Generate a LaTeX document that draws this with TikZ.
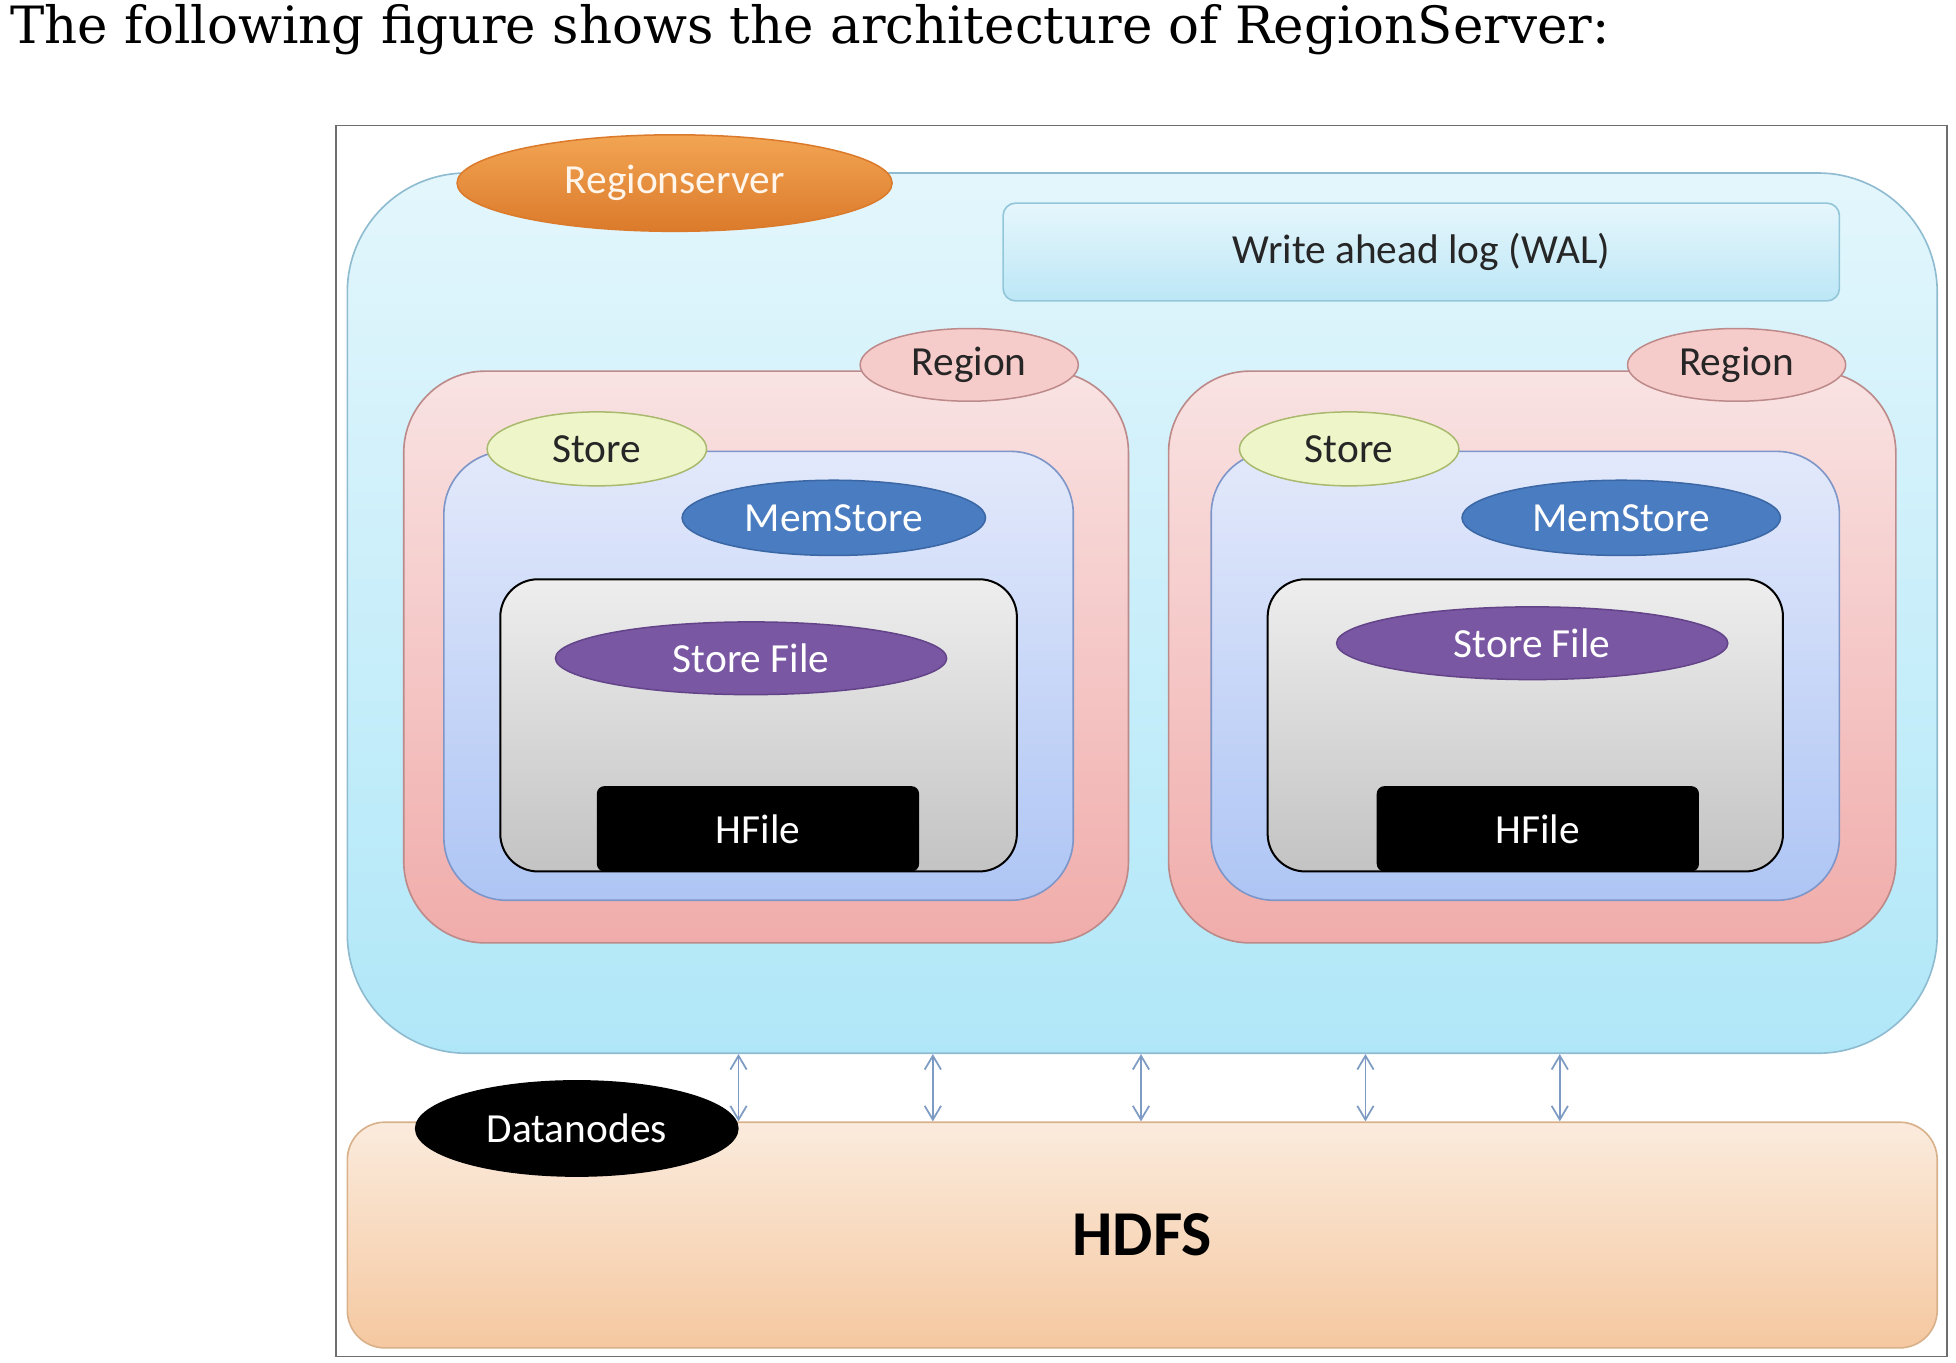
\documentclass[tikz,border=0pt]{standalone}
\usepackage{fontspec}
\newfontfamily\diagfont{Carlito}
\newfontfamily\titlefont{DejaVu Serif}
\usetikzlibrary{shapes.geometric,arrows.meta}
\definecolor{frameGray}{HTML}{6E6E6E}
\definecolor{rsTop}{HTML}{E3F6FC}
\definecolor{rsBot}{HTML}{B0E7F8}
\definecolor{rsLine}{HTML}{8EBBCF}
\definecolor{walTop}{HTML}{E6F6FC}
\definecolor{walBot}{HTML}{BCE7F6}
\definecolor{walLine}{HTML}{93C6D8}
\definecolor{orTop}{HTML}{F2A553}
\definecolor{orBot}{HTML}{DB7A2B}
\definecolor{regTop}{HTML}{F9E3E3}
\definecolor{regBot}{HTML}{F0ACAA}
\definecolor{regLine}{HTML}{BD8A8A}
\definecolor{regEll}{HTML}{F6CCCA}
\definecolor{stTop}{HTML}{E3E9FB}
\definecolor{stBot}{HTML}{AEC5F4}
\definecolor{stLine}{HTML}{7E96C8}
\definecolor{stEll}{HTML}{EEF6C9}
\definecolor{stEllLine}{HTML}{A9B96E}
\definecolor{memBlue}{HTML}{4A7CC1}
\definecolor{memLine}{HTML}{3B67A5}
\definecolor{sfTop}{HTML}{EEEEEE}
\definecolor{sfBot}{HTML}{C3C3C3}
\definecolor{sfPurple}{HTML}{7A57A3}
\definecolor{sfLine}{HTML}{634489}
\definecolor{hdTop}{HTML}{FBEBDD}
\definecolor{hdBot}{HTML}{F5C8A0}
\definecolor{hdLine}{HTML}{D8B18A}
\definecolor{ioBlue}{HTML}{7E9BC3}
\definecolor{txtDark}{HTML}{262626}

\begin{document}
\begin{tikzpicture}[x=1pt,y=1pt,yscale=-1,
	box/.style={rectangle,inner sep=0pt,line width=1.3pt},
	lbl/.style={ellipse,inner sep=0pt,line width=1.2pt,font=\diagfont\fontsize{33}{40}\selectfont},
	io/.style={draw=ioBlue,line width=1.4pt,{Straight Barb[length=11pt,width=13pt]}-{Straight Barb[length=11pt,width=13pt]}}]
	\useasboundingbox (0,0) rectangle (1560,1086.3);
	\node[anchor=base west,inner sep=0pt,font=\titlefont\fontsize{41}{49}\selectfont] (title) at (8,35) {The following figure shows the architecture of RegionServer:};
	\draw[line width=1.2pt,draw=frameGray] (268,100) rectangle (1553,1082);
	\node[box,minimum width=1268pt,minimum height=702pt,rounded corners=95pt,top color=rsTop,bottom color=rsBot,draw=rsLine] (rs) at (911,489) {};
	\node[lbl,minimum width=347pt,minimum height=77pt,top color=orTop,bottom color=orBot,draw=orBot,text=white!92!orange] (rsLbl) at (538,146) {Regionserver};
	\node[box,minimum width=667pt,minimum height=78pt,rounded corners=10pt,top color=walTop,bottom color=walBot,draw=walLine,text=txtDark,font=\diagfont\fontsize{33}{40}\selectfont] (wal) at (1133.5,201) {Write ahead log (WAL)};
	\node[box,minimum width=578pt,minimum height=456pt,rounded corners=65pt,top color=regTop,bottom color=regBot,draw=regLine] (regA) at (611,524) {};
	\node[box,minimum width=580pt,minimum height=456pt,rounded corners=65pt,top color=regTop,bottom color=regBot,draw=regLine] (regB) at (1222,524) {};
	\node[lbl,minimum width=174pt,minimum height=58pt,fill=regEll,draw=regLine,text=txtDark] (regLblA) at (773,291) {Region};
	\node[lbl,minimum width=174pt,minimum height=58pt,fill=regEll,draw=regLine,text=txtDark] (regLblB) at (1385,291) {Region};
	\node[box,minimum width=502pt,minimum height=358pt,rounded corners=50pt,top color=stTop,bottom color=stBot,draw=stLine] (stA) at (605,539) {};
	\node[box,minimum width=501pt,minimum height=358pt,rounded corners=50pt,top color=stTop,bottom color=stBot,draw=stLine] (stB) at (1216.5,539) {};
	\node[lbl,minimum width=175pt,minimum height=59pt,fill=stEll,draw=stEllLine,text=txtDark] (stLblA) at (476,358) {Store};
	\node[lbl,minimum width=175pt,minimum height=59pt,fill=stEll,draw=stEllLine,text=txtDark] (stLblB) at (1076,358) {Store};
	\node[lbl,minimum width=242pt,minimum height=60pt,fill=memBlue,draw=memLine,text=white] (msA) at (665,413) {MemStore};
	\node[lbl,minimum width=254pt,minimum height=60pt,fill=memBlue,draw=memLine,text=white] (msB) at (1293,413) {MemStore};
	\node[box,minimum width=412pt,minimum height=233pt,rounded corners=30pt,top color=sfTop,bottom color=sfBot,draw=black,line width=1.6pt] (sfA) at (605,578.5) {};
	\node[box,minimum width=411pt,minimum height=233pt,rounded corners=30pt,top color=sfTop,bottom color=sfBot,draw=black,line width=1.6pt] (sfB) at (1216.5,578.5) {};
	\node[lbl,minimum width=312pt,minimum height=58pt,fill=sfPurple,draw=sfLine,text=white] (sfLblA) at (599,525) {Store File};
	\node[lbl,minimum width=312pt,minimum height=58pt,fill=sfPurple,draw=sfLine,text=white] (sfLblB) at (1222,513) {Store File};
	\node[box,minimum width=257pt,minimum height=68pt,rounded corners=6pt,fill=black,text=white,font=\diagfont\fontsize{33}{40}\selectfont] (hfA) at (604.5,661) {HFile};
	\node[box,minimum width=257pt,minimum height=68pt,rounded corners=6pt,fill=black,text=white,font=\diagfont\fontsize{33}{40}\selectfont] (hfB) at (1226.5,661) {HFile};
	\node[box,minimum width=1268pt,minimum height=180pt,rounded corners=30pt,top color=hdTop,bottom color=hdBot,draw=hdLine,text=black,font=\diagfont\bfseries\fontsize{51}{60}\selectfont] (hdfs) at (911,985) {HDFS};
	\node[lbl,minimum width=257pt,minimum height=76pt,fill=black,draw=black,text=white] (dn) at (460,900) {Datanodes};
	\foreach \x in {589,744,910,1089,1244}
		\draw[io] (\x,0 |- rs.south) -- (\x,0 |- hdfs.north);
\end{tikzpicture}
\end{document}
